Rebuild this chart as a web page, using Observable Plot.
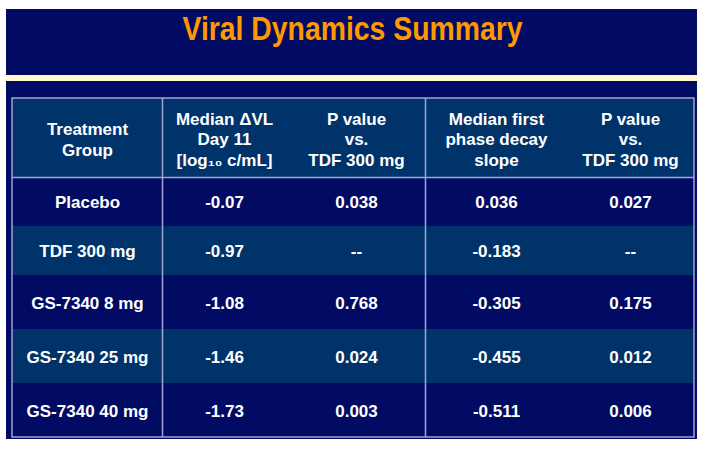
<!DOCTYPE html>
<html>
<head>
<meta charset="utf-8">
<script src="https://cdn.jsdelivr.net/npm/d3@7"></script>
<script src="https://cdn.jsdelivr.net/npm/@observablehq/plot@0.6"></script>
<style>
  html, body { margin: 0; padding: 0; background: #ffffff; }
  #chart svg { display: block; }
</style>
</head>
<body>
<div id="chart"></div>
<script>
// ---- Data ----
const title = "Viral Dynamics Summary";
const groups = ["Placebo", "TDF 300 mg", "GS-7340 8 mg", "GS-7340 25 mg", "GS-7340 40 mg"];
const medianDeltaVL = [-0.07, -0.97, -1.08, -1.46, -1.73];
const pValueDeltaVL = [0.038, null, 0.768, 0.024, 0.003];
const decaySlope = [0.036, -0.183, -0.305, -0.455, -0.511];
const pValueSlope = [0.027, null, 0.175, 0.012, 0.006];
const headers = [
  "Treatment\nGroup",
  "Median ΔVL\nDay 11\n[log₁₀ c/mL]",
  "P value\nvs.\nTDF 300 mg",
  "Median first\nphase decay\nslope",
  "P value\nvs.\nTDF 300 mg"
];

// ---- Layout (pixel space) ----
const W = 713, H = 449;
const colCenters = [87, 224, 356, 496, 630];
const rowEdges = [177, 226, 275, 329, 383, 437];
const table = {x1: 12, x2: 694, y1: 98, y2: 437};
const dividers = [162, 425];
const navy = "#020b64";
const teal = "#00336a";
const cream = "#fff9cc";
const borderColor = "#a3a3d2";
const font = "'Liberation Sans', Arial, sans-serif";

const fmt2 = v => v == null ? "--" : v.toFixed(2);
const fmt3 = v => v == null ? "--" : v.toFixed(3);

const columns = [
  groups,
  medianDeltaVL.map(fmt2),
  pValueDeltaVL.map(fmt3),
  decaySlope.map(fmt3),
  pValueSlope.map(fmt3)
];

const cells = [];
columns.forEach((col, c) => col.forEach((t, r) => cells.push({
  x: colCenters[c], y: (rowEdges[r] + rowEdges[r + 1]) / 2, text: t
})));

const headerCells = headers.map((h, c) => ({x: colCenters[c], y: (table.y1 + rowEdges[0]) / 2 + 1, text: h}));

const rowBands = groups.map((g, r) => ({
  y1: rowEdges[r], y2: rowEdges[r + 1], fill: r % 2 === 0 ? navy : teal
}));

const panels = [
  {x1: 6, x2: 697, y1: 9, y2: 75, fill: navy},
  {x1: 6, x2: 697, y1: 75, y2: 81, fill: cream},
  {x1: 6, x2: 697, y1: 81, y2: 439, fill: navy},
  {x1: table.x1, x2: table.x2, y1: table.y1, y2: rowEdges[0], fill: teal}
];

const hLines = [{x1: table.x1, x2: table.x2, y: rowEdges[0]}];
const vLines = dividers.map(x => ({x, y1: table.y1, y2: table.y2}));

const chart = Plot.plot({
  width: W,
  height: H,
  margin: 0,
  x: {type: "linear", domain: [0, W], range: [0, W], axis: null},
  y: {type: "linear", domain: [0, H], range: [0, H], axis: null},
  style: {background: "#ffffff", fontFamily: font},
  marks: [
    Plot.rect(panels, {x1: "x1", x2: "x2", y1: "y1", y2: "y2", fill: d => d.fill}),
    Plot.rect(rowBands, {x1: table.x1, x2: table.x2, y1: "y1", y2: "y2", fill: d => d.fill}),
    Plot.ruleY(hLines, {x1: "x1", x2: "x2", y: "y", stroke: borderColor, strokeWidth: 1.5}),
    Plot.ruleX(vLines, {x: "x", y1: "y1", y2: "y2", stroke: borderColor, strokeWidth: 1.5}),
    Plot.rect([table], {x1: "x1", x2: "x2", y1: "y1", y2: "y2", fill: "none", stroke: borderColor, strokeWidth: 1.5}),
    Plot.text([{x: 352, y: 39, text: title}], {
      x: "x", y: "y", text: "text", fill: "#ff9900", fontWeight: "bold",
      fontSize: 34, fontFamily: "'Liberation Sans Narrow', 'Liberation Sans', Arial, sans-serif",
      lineAnchor: "bottom", textAnchor: "middle"
    }),
    Plot.text(headerCells, {
      x: "x", y: "y", text: "text", fill: "#ffffff", fontWeight: "bold",
      fontSize: 17, lineHeight: 1.19, fontFamily: font
    }),
    Plot.text(cells, {
      x: "x", y: "y", text: "text", fill: "#ffffff", fontWeight: "bold",
      fontSize: 17, fontFamily: font, dy: 1
    })
  ]
});

// Fit title width to the reference's condensed lettering
chart.querySelectorAll("text").forEach(t => {
  if (t.textContent === title) {
    t.setAttribute("textLength", 340);
    t.setAttribute("lengthAdjust", "spacingAndGlyphs");
  }
});

document.getElementById("chart").appendChild(chart);
</script>
</body>
</html>
